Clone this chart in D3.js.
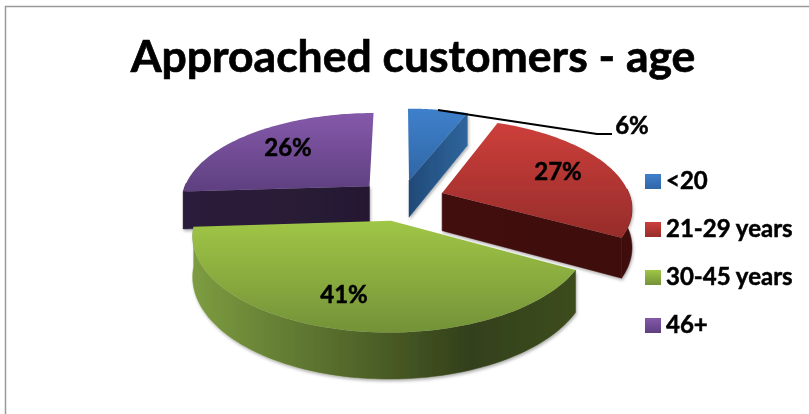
<!DOCTYPE html>
<html><head><meta charset="utf-8">
<script src="https://cdn.jsdelivr.net/npm/d3@7"></script>
<style>html,body{margin:0;padding:0;background:#fff}svg{display:block}text{font-family:Lato,"Open Sans",sans-serif;font-weight:700;fill:#000;stroke:#000}</style>
</head><body><svg id="c" width="809" height="414"></svg>
<script>
const categories = ["<20", "21-29 years", "30-45 years", "46+"];
const values = [6, 27, 41, 26];
const labels = ["6%", "27%", "41%", "26%"];
const titleText = "Approached customers - age";

const topColors = [["#3f80cb","#2f66a6"],["#cd3f3b","#962c2a"],["#a0c646","#739238"],["#8559aa","#5e4080"]];
const wallColors = [["#1f4a78","#2f659c"],["#431111","#3f0f0f"],["#7d9c40","#33401a","#3c4c1c"],["#2b1c3a","#271933"]];

const W=809,H=414, cx=401, cy=200, rx=189, ry=88, persp=0.15, explode=0.234, depth=38;
const svg=d3.select("#c");
const defs=svg.append("defs");
const f=defs.append("filter").attr("id","sh").attr("x","-10%").attr("y","-10%").attr("width","120%").attr("height","125%");
f.append("feDropShadow").attr("dx",1).attr("dy",2).attr("stdDeviation",1.5).attr("flood-color","#000").attr("flood-opacity",.3);
const soft=defs.append("filter").attr("id","soft");
soft.append("feGaussianBlur").attr("stdDeviation",.45);

svg.append("path").attr("d",`M5.5,${H} V6.5 H${W}`).attr("fill","none").attr("stroke","#9a9a9a").attr("stroke-width",1.5);

const arcs=d3.pie().sort(null).value(d=>d).startAngle(0).endAngle(2*Math.PI)(values);
const line=d3.line().x(d=>d[0]).y(d=>d[1]);

function proj(X,Y,drop){const w=1/(1-persp*Y);return [cx+rx*X*w, cy+ry*Y*w+(drop?depth*w:0)];}
function pt(a,r,mx,my){return [r*Math.sin(a)+explode*mx, -r*Math.cos(a)+explode*my];}

arcs.forEach((a,i)=>{
  const g=defs.append("linearGradient").attr("id","t"+i).attr("x1",0).attr("x2",0).attr("y1",0).attr("y2",1);
  g.append("stop").attr("offset",0).attr("stop-color",topColors[i][0]);
  g.append("stop").attr("offset",1).attr("stop-color",topColors[i][1]);
  const h=defs.append("linearGradient").attr("id","w"+i);
  wallColors[i].forEach((c,k,arr)=>{
    h.append("stop").attr("offset",arr.length==3?[0,.72,1][k]:k/(arr.length-1)).attr("stop-color",c);
  });
});

const order=[0,3,1,2];
const pieG=svg.append("g").attr("filter","url(#soft)");
order.forEach(i=>{
  const a=arcs[i], mid=(a.startAngle+a.endAngle)/2, mx=Math.sin(mid), my=-Math.cos(mid);
  const N=80, angles=d3.range(N+1).map(k=>a.startAngle+(a.endAngle-a.startAngle)*k/N);
  const apex=[explode*mx,explode*my];
  const rim=angles.map(t=>pt(t,1,mx,my));
  const g=pieG.append("g");
  const wallG=g.append("g").attr("filter","url(#sh)");
  const quad=(P,Q)=>[proj(P[0],P[1]),proj(Q[0],Q[1]),proj(Q[0],Q[1],true),proj(P[0],P[1],true)];
  const wallPolys=[];
  // a cut face is drawn only when it turns toward the viewer
  if(Math.sin(a.startAngle)<-1e-6) wallPolys.push(quad(apex,rim[0]));
  if(Math.sin(a.endAngle)>1e-6) wallPolys.push(quad(apex,rim[N]));
  const front=rim.map((p,k)=>({p,t:angles[k]})).filter(o=>Math.cos(o.t)<0.05);
  if(front.length>1){
    wallPolys.push(front.map(o=>proj(o.p[0],o.p[1])).concat(front.map(o=>proj(o.p[0],o.p[1],true)).reverse()));
  }
  const xs=wallPolys.flat().map(p=>p[0]);
  defs.select("#w"+i).attr("gradientUnits","userSpaceOnUse").attr("x1",d3.min(xs)).attr("x2",d3.max(xs)).attr("y1",0).attr("y2",0);
  wallG.selectAll("path").data(wallPolys).join("path")
    .attr("d",d=>line(d)+"Z").attr("fill",`url(#w${i})`).attr("stroke",`url(#w${i})`).attr("stroke-width",.5);
  const face=[proj(apex[0],apex[1])].concat(rim.map(p=>proj(p[0],p[1])));
  g.append("path").attr("d",line(face)+"Z").attr("fill",`url(#t${i})`);
});

svg.append("path").attr("d",line([[438,110],[597,134],[612,134]])).attr("fill","none").attr("stroke","#000").attr("stroke-width",2);

svg.append("text").attr("x",413).attr("y",72).attr("text-anchor","middle").attr("font-size",44.5).attr("stroke-width",.7).text(titleText);

const lx=[632,558,344,288], ly=[134,180,303,156];
labels.forEach((t,i)=>svg.append("text").attr("x",lx[i]).attr("y",ly[i]).attr("text-anchor","middle").attr("font-size",24).attr("stroke-width",.5).text(t));

const rowY=d3.scalePoint().domain(categories).range([189,333]);
categories.forEach((c,i)=>{
  const y=rowY(c);
  svg.append("rect").attr("x",645).attr("y",y-15).attr("width",16).attr("height",15).attr("fill",`url(#t${i})`);
  svg.append("text").attr("x",666).attr("y",y).attr("font-size",24).attr("stroke-width",.5).text(c);
});
</script></body></html>
